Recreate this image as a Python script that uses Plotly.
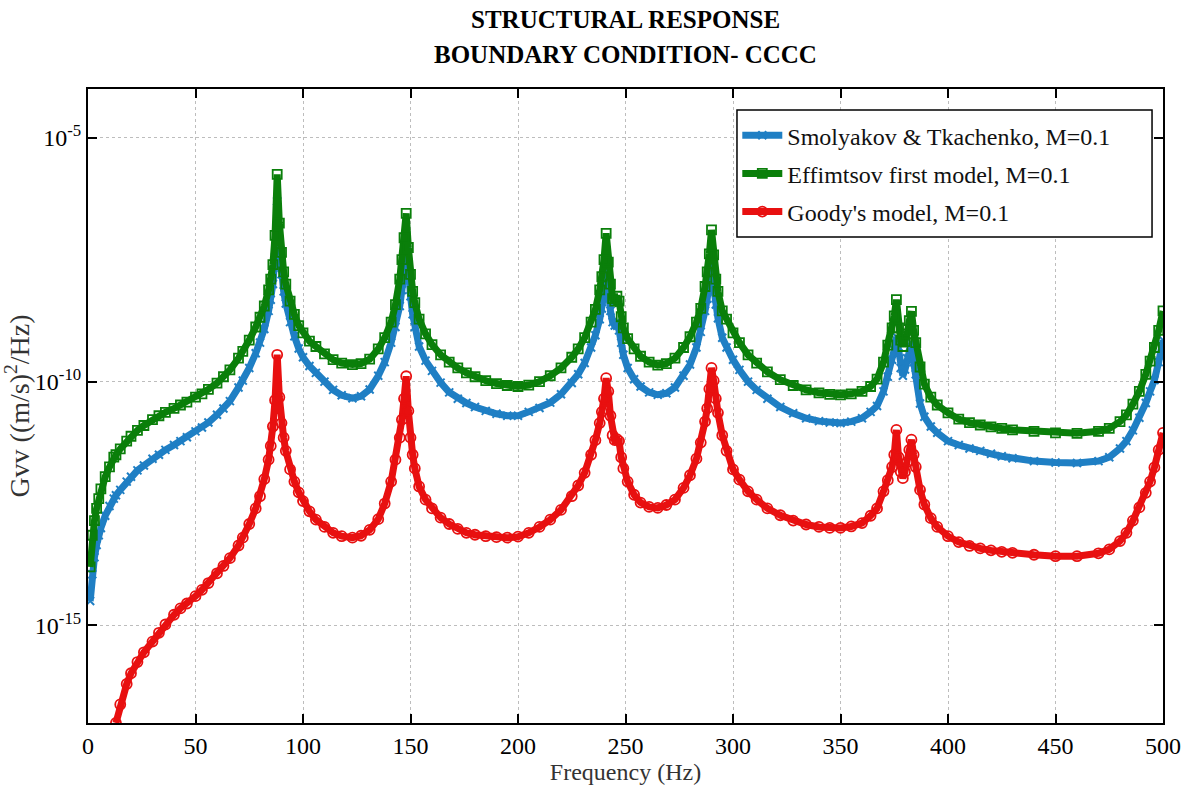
import plotly.graph_objects as go

freq = [1,2,3,4,5,6,8,10,12,13,15,18,20,23,26,30,33,36,40,43,46,50,53,56,60,63,66,70,72,75,78,80,82,84,85,86,87,88,89,90,91,92,94,96,98,
        100,103,106,110,114,118,123,127,131,135,138,141,143,145,146,147,148,149,150,151,152,154,157,160,164,168,172,176,180,185,190,195,
        200,205,210,215,220,225,228,231,234,236,238,239,240,241,242,243,244,245,246,247,248,249,251,254,257,261,265,269,273,277,280,283,285,287,288,289,290,291,292,293,295,297,
        300,303,307,311,316,322,328,334,340,345,350,355,360,364,367,370,372,374,375,376,377,378,379,380,381,382,383,384,385,387,389,392,395,
        400,405,410,415,420,425,430,440,450,460,470,475,480,483,486,489,492,494,496,498,500]

# log10 of Gvv ((m/s)^2/Hz) for each model
smolyakov_log10 = [-14.5,-13.95,-13.6,-13.35,-13.15,-13.0,-12.75,-12.55,-12.4,-12.33,-12.22,-12.05,-11.95,-11.82,-11.72,-11.58,-11.5,-11.4,-11.3,-11.22,-11.14,-11.02,-10.94,-10.84,-10.68,-10.55,-10.4,-10.12,-9.98,-9.72,-9.42,-9.2,-8.92,-8.55,-8.32,-8.0,-7.45,-6.3,-7.2,-7.8,-8.15,-8.4,-8.78,-9.07,-9.32,
    -9.5,-9.68,-9.82,-10.0,-10.17,-10.28,-10.34,-10.3,-10.16,-9.88,-9.6,-9.2,-8.88,-8.45,-8.12,-7.75,-7.0,-7.8,-8.25,-8.62,-8.88,-9.28,-9.57,-9.78,-10.02,-10.22,-10.35,-10.44,-10.52,-10.6,-10.66,-10.7,
    -10.7,-10.62,-10.54,-10.43,-10.26,-10.03,-9.85,-9.62,-9.3,-9.05,-8.72,-8.5,-8.2,-7.64,-8.2,-8.55,-8.78,-8.85,-8.82,-8.95,-9.2,-9.45,-9.72,-9.95,-10.1,-10.22,-10.27,-10.24,-10.12,-9.88,-9.65,-9.3,-8.98,-8.55,-8.3,-8.0,-7.5,-8.05,-8.42,-8.7,-9.1,-9.3,
    -9.55,-9.76,-10.0,-10.17,-10.35,-10.52,-10.65,-10.75,-10.81,-10.84,-10.85,-10.82,-10.75,-10.62,-10.5,-10.2,-9.9,-9.55,-9.35,-9.08,-9.42,-9.72,-9.88,-9.75,-9.52,-9.3,-9.21,-9.6,-9.85,-10.45,-10.72,-10.92,-11.05,
    -11.22,-11.3,-11.37,-11.42,-11.48,-11.53,-11.57,-11.63,-11.66,-11.67,-11.63,-11.55,-11.37,-11.22,-11.0,-10.74,-10.44,-10.2,-9.97,-9.6,-9.15]

effimtsov_log10 = [-13.8,-13.15,-12.85,-12.6,-12.4,-12.2,-11.95,-11.75,-11.55,-11.5,-11.38,-11.22,-11.12,-11.0,-10.9,-10.78,-10.7,-10.63,-10.55,-10.48,-10.42,-10.32,-10.25,-10.16,-10.03,-9.9,-9.76,-9.52,-9.38,-9.15,-8.88,-8.68,-8.45,-8.12,-7.9,-7.6,-7.0,-5.75,-6.75,-7.35,-7.75,-8.0,-8.35,-8.62,-8.85,
    -9.0,-9.17,-9.28,-9.43,-9.55,-9.62,-9.65,-9.63,-9.54,-9.33,-9.1,-8.78,-8.42,-7.9,-7.5,-7.05,-6.55,-7.25,-7.8,-8.15,-8.38,-8.72,-9.02,-9.24,-9.45,-9.6,-9.72,-9.82,-9.9,-9.98,-10.04,-10.08,
    -10.1,-10.07,-10.0,-9.88,-9.72,-9.5,-9.33,-9.1,-8.78,-8.52,-8.12,-7.85,-7.5,-6.96,-7.55,-8.0,-8.3,-8.35,-8.25,-8.35,-8.67,-8.9,-9.12,-9.33,-9.48,-9.6,-9.66,-9.63,-9.52,-9.3,-9.08,-8.78,-8.5,-8.05,-7.75,-7.38,-6.89,-7.4,-7.9,-8.15,-8.55,-8.72,
    -9.0,-9.2,-9.45,-9.62,-9.8,-9.96,-10.08,-10.17,-10.23,-10.26,-10.27,-10.25,-10.2,-10.1,-9.95,-9.6,-9.25,-8.9,-8.65,-8.32,-8.9,-9.15,-9.28,-9.18,-9.02,-8.75,-8.56,-8.95,-9.2,-9.7,-10.05,-10.32,-10.48,
    -10.64,-10.77,-10.84,-10.89,-10.93,-10.96,-10.99,-11.02,-11.05,-11.06,-11.02,-10.96,-10.82,-10.68,-10.46,-10.2,-9.85,-9.58,-9.3,-8.95,-8.55]

goody_log10 = [None,None,None,None,None,None,None,None,None,-17.0,-16.62,-16.2,-15.98,-15.75,-15.55,-15.33,-15.15,-14.98,-14.78,-14.65,-14.55,-14.4,-14.27,-14.13,-13.93,-13.78,-13.62,-13.36,-13.2,-12.92,-12.6,-12.35,-12.0,-11.6,-11.32,-10.92,-10.38,-9.45,-10.32,-10.85,-11.15,-11.42,-11.8,-12.05,-12.27,
    -12.45,-12.66,-12.83,-12.98,-13.1,-13.17,-13.2,-13.16,-13.04,-12.82,-12.5,-12.05,-11.6,-11.15,-10.78,-10.35,-9.89,-10.6,-11.15,-11.5,-11.78,-12.15,-12.42,-12.6,-12.79,-12.92,-13.02,-13.1,-13.14,-13.17,-13.19,-13.2,
    -13.18,-13.1,-12.98,-12.83,-12.63,-12.35,-12.13,-11.87,-11.5,-11.2,-10.85,-10.62,-10.35,-9.93,-10.2,-10.7,-11.1,-11.2,-11.18,-11.22,-11.55,-11.78,-12.05,-12.32,-12.48,-12.57,-12.59,-12.53,-12.42,-12.18,-11.92,-11.58,-11.25,-10.82,-10.55,-10.15,-9.72,-9.98,-10.35,-10.64,-11.1,-11.42,
    -11.8,-12.01,-12.25,-12.42,-12.6,-12.74,-12.85,-12.93,-12.98,-13.0,-13.0,-12.97,-12.9,-12.75,-12.6,-12.25,-12.02,-11.75,-11.5,-10.99,-11.55,-11.85,-11.98,-11.85,-11.65,-11.4,-11.19,-11.5,-11.75,-12.22,-12.52,-12.8,-12.98,
    -13.17,-13.29,-13.37,-13.42,-13.46,-13.49,-13.51,-13.55,-13.58,-13.58,-13.52,-13.44,-13.27,-13.1,-12.85,-12.58,-12.28,-12.05,-11.76,-11.4,-11.05]

series_names = ["Smolyakov & Tkachenko, M=0.1", "Effimtsov first model, M=0.1", "Goody's model, M=0.1"]
y_tick_vals = [1e-15, 1e-10, 1e-5]
y_tick_text = ["10<sup>-15</sup>", "10<sup>-10</sup>", "10<sup>-5</sup>"]
x_tick_vals = [0, 50, 100, 150, 200, 250, 300, 350, 400, 450, 500]


def to_lin(vals):
    return [None if v is None else 10 ** v for v in vals]


FONT = "Liberation Serif"
styles = [
    dict(color="#1f7fc4", symbol="x-thin-open", size=8, mlw=2),
    dict(color="#0a7f0a", symbol="square-open", size=9, mlw=1.8),
    dict(color="#e81010", symbol="circle-open", size=10, mlw=1.8),
]

fig = go.Figure()
for i, (name, vals, st) in enumerate(zip(series_names, [smolyakov_log10, effimtsov_log10, goody_log10], styles)):
    fig.add_trace(go.Scatter(
        x=freq, y=to_lin(vals), name=name, mode="lines+markers", legendgroup=f"g{i}",
        line=dict(color=st["color"], width=7),
        marker=dict(symbol=st["symbol"], size=st["size"], color=st["color"],
                    line=dict(color=st["color"], width=st["mlw"])),
    ))

axis_common = dict(showline=True, linecolor="black", linewidth=2, mirror="ticks",
                   ticks="inside", ticklen=9, tickwidth=2, tickcolor="black",
                   showgrid=True, gridcolor="#bdbdbd", gridwidth=1, griddash="dot",
                   zeroline=False, automargin=False,
                   tickfont=dict(family=FONT, size=24, color="black"))

fig.update_layout(
    width=1202, height=801,
    margin=dict(l=88, r=39, t=89, b=78),
    paper_bgcolor="white", plot_bgcolor="white",
    font=dict(family=FONT, color="black"),
    showlegend=True,
    legend=dict(x=0.604, y=0.962, xanchor="left", yanchor="top",
                bgcolor="rgba(0,0,0,0)", borderwidth=0,
                font=dict(family=FONT, size=24, color="#111111"),
                tracegroupgap=4, itemwidth=40),
    xaxis=dict(range=[0, 500], tickvals=x_tick_vals,
               title=dict(text="Frequency (Hz)", standoff=4,
                          font=dict(family=FONT, size=24, color="#333333")),
               **axis_common),
    yaxis=dict(type="log", range=[-17, -4], tickvals=y_tick_vals, ticktext=y_tick_text,
               title=dict(text="Gvv ((m/s)<sup>2</sup>/Hz)", standoff=8,
                          font=dict(family=FONT, size=28, color="#333333")),
               **axis_common),
)

# legend frame
fig.add_shape(type="rect", xref="paper", yref="paper",
              x0=0.6037, x1=0.9898, y0=0.7666, y1=0.9669,
              line=dict(color="black", width=1.5), fillcolor="white", layer="above")

fig.add_annotation(text="<b>STRUCTURAL RESPONSE</b>", xref="paper", yref="paper",
                   x=0.5, y=1.109, xanchor="center", yanchor="middle", showarrow=False,
                   font=dict(family=FONT, size=25, color="black"))
fig.add_annotation(text="<b>BOUNDARY CONDITION- CCCC</b>", xref="paper", yref="paper",
                   x=0.5, y=1.054, xanchor="center", yanchor="middle", showarrow=False,
                   font=dict(family=FONT, size=25, color="black"))

fig.write_html("out.html")
